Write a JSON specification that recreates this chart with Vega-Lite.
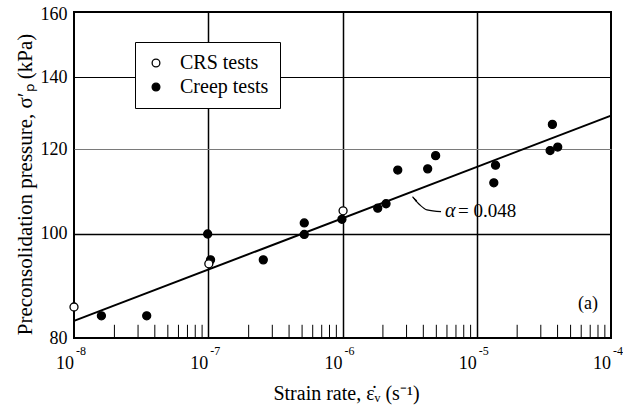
{
  "$schema": "https://vega.github.io/schema/vega-lite/v6.json",
  "width": 537,
  "height": 326,
  "autosize": {"type": "none"},
  "padding": {"left": 74, "top": 12, "right": 12, "bottom": 67},
  "background": "white",
  "config": {
    "view": {"stroke": "black", "strokeWidth": 2},
    "font": "Times New Roman, Liberation Serif, serif",
    "axis": {"labelFont": "Times New Roman, Liberation Serif, serif", "titleFont": "Times New Roman, Liberation Serif, serif", "labelColor": "black", "titleColor": "black", "titleFontWeight": "normal"},
    "legend": {"labelFont": "Times New Roman, Liberation Serif, serif", "labelColor": "black"}
  },
  "datasets": {
    "points": [
      {"x": 1.60e-8, "y": 83.9, "test": "Creep tests"},
      {"x": 3.48e-8, "y": 83.9, "test": "Creep tests"},
      {"x": 9.9e-8, "y": 100.0, "test": "Creep tests"},
      {"x": 1.04e-7, "y": 94.6, "test": "Creep tests"},
      {"x": 2.57e-7, "y": 94.6, "test": "Creep tests"},
      {"x": 5.19e-7, "y": 102.4, "test": "Creep tests"},
      {"x": 5.19e-7, "y": 99.9, "test": "Creep tests"},
      {"x": 9.9e-7, "y": 103.2, "test": "Creep tests"},
      {"x": 1.83e-6, "y": 105.7, "test": "Creep tests"},
      {"x": 2.11e-6, "y": 106.7, "test": "Creep tests"},
      {"x": 2.58e-6, "y": 114.7, "test": "Creep tests"},
      {"x": 4.31e-6, "y": 115.0, "test": "Creep tests"},
      {"x": 4.94e-6, "y": 118.3, "test": "Creep tests"},
      {"x": 1.38e-5, "y": 115.9, "test": "Creep tests"},
      {"x": 1.34e-5, "y": 111.6, "test": "Creep tests"},
      {"x": 3.66e-5, "y": 126.5, "test": "Creep tests"},
      {"x": 3.52e-5, "y": 119.6, "test": "Creep tests"},
      {"x": 4.01e-5, "y": 120.5, "test": "Creep tests"},
      {"x": 1.0e-8, "y": 85.5, "test": "CRS tests"},
      {"x": 1.01e-7, "y": 93.8, "test": "CRS tests"},
      {"x": 1.01e-6, "y": 105.1, "test": "CRS tests"}
    ],
    "fit": [
      {"x": 1e-8, "y": 83.0},
      {"x": 1e-4, "y": 128.9}
    ],
    "arrow": [
      {"x": 3.33e-6, "y": 108.3},
      {"x": 3.78e-6, "y": 106.4},
      {"x": 4.26e-6, "y": 105.3},
      {"x": 5.42e-6, "y": 104.9}
    ],
    "arrowhead": [{"x": 3.47e-6, "y": 107.7}],
    "alpha": [{"x": 5.81e-6, "y": 105.1, "label": "α"}],
    "alphaval": [{"x": 7.24e-6, "y": 105.1, "label": "= 0.048"}],
    "panel": [{"x": 6.75e-5, "y": 86.0, "label": "(a)"}],
    "decades": [
      {"x": 1e-8, "y": 80, "base": "10", "exp": "-8"},
      {"x": 1e-7, "y": 80, "base": "10", "exp": "-7"},
      {"x": 1e-6, "y": 80, "base": "10", "exp": "-6"},
      {"x": 1e-5, "y": 80, "base": "10", "exp": "-5"},
      {"x": 1e-4, "y": 80, "base": "10", "exp": "-4"}
    ],
    "minor": [
      {"x": 2e-8}, {"x": 3e-8}, {"x": 4e-8}, {"x": 5e-8}, {"x": 6e-8}, {"x": 7e-8}, {"x": 8e-8}, {"x": 9e-8},
      {"x": 2e-7}, {"x": 3e-7}, {"x": 4e-7}, {"x": 5e-7}, {"x": 6e-7}, {"x": 7e-7}, {"x": 8e-7}, {"x": 9e-7},
      {"x": 2e-6}, {"x": 3e-6}, {"x": 4e-6}, {"x": 5e-6}, {"x": 6e-6}, {"x": 7e-6}, {"x": 8e-6}, {"x": 9e-6},
      {"x": 2e-5}, {"x": 3e-5}, {"x": 4e-5}, {"x": 5e-5}, {"x": 6e-5}, {"x": 7e-5}, {"x": 8e-5}, {"x": 9e-5}
    ]
  },
  "layer": [
    {
      "data": {"name": "minor"},
      "mark": {"type": "rule", "color": "black", "strokeWidth": 1},
      "encoding": {
        "x": {
          "field": "x", "type": "quantitative",
          "scale": {"type": "log", "domain": [1e-8, 1e-4], "nice": false},
          "axis": {
            "values": [1e-7, 1e-6, 1e-5],
            "labels": false, "ticks": false, "domain": false,
            "grid": true, "gridColor": "black", "gridWidth": 1.5,
            "title": "Strain rate, ε̇ᵥ (s⁻¹)",
            "titleFontSize": 20, "titleX": 272, "titleY": 55,
            "titleBaseline": "middle", "titleAlign": "center"
          }
        },
        "y": {
          "datum": 80, "type": "quantitative",
          "scale": {"type": "log", "domain": [80, 161], "nice": false, "zero": false},
          "axis": {
            "values": [80, 100, 120, 140, 160],
            "ticks": false, "domain": false,
            "labelFontSize": 18, "labelPadding": 7, "labelOverlap": false,
            "grid": true,
            "gridColor": {"condition": {"test": "datum.value == 120", "value": "#7a7a7a"}, "value": "black"},
            "gridWidth": {"condition": {"test": "datum.value == 100", "value": 1.5}, "value": 1},
            "gridOpacity": {"condition": {"test": "datum.value == 80 || datum.value == 160", "value": 0}, "value": 1},
            "title": "Preconsolidation pressure, σ′ₚ (kPa)",
            "titleFontSize": 21, "titleX": -49, "titleY": 172,
            "titleBaseline": "middle", "titleAlign": "center", "titleAngle": -90
          }
        },
        "y2": {"datum": 82.3}
      }
    },
    {
      "data": {"name": "fit"},
      "mark": {"type": "line", "color": "black", "strokeWidth": 2},
      "encoding": {
        "x": {"field": "x", "type": "quantitative", "scale": {"type": "log", "domain": [1e-8, 1e-4], "nice": false}},
        "y": {"field": "y", "type": "quantitative", "scale": {"type": "log", "domain": [80, 161], "nice": false, "zero": false}}
      }
    },
    {
      "data": {"name": "arrow"},
      "mark": {"type": "line", "color": "black", "strokeWidth": 1.2, "interpolate": "monotone"},
      "encoding": {
        "x": {"field": "x", "type": "quantitative", "scale": {"type": "log", "domain": [1e-8, 1e-4], "nice": false}},
        "y": {"field": "y", "type": "quantitative", "scale": {"type": "log", "domain": [80, 161], "nice": false, "zero": false}}
      }
    },
    {
      "data": {"name": "arrowhead"},
      "mark": {"type": "point", "shape": "wedge", "filled": true, "color": "black", "size": 60, "angle": -42, "opacity": 1},
      "encoding": {
        "x": {"field": "x", "type": "quantitative", "scale": {"type": "log", "domain": [1e-8, 1e-4], "nice": false}},
        "y": {"field": "y", "type": "quantitative", "scale": {"type": "log", "domain": [80, 161], "nice": false, "zero": false}}
      }
    },
    {
      "data": {"name": "points"},
      "mark": {"type": "point", "shape": "circle", "filled": true, "stroke": "black", "strokeWidth": 1.3, "size": 64, "opacity": 1},
      "encoding": {
        "x": {"field": "x", "type": "quantitative", "scale": {"type": "log", "domain": [1e-8, 1e-4], "nice": false}},
        "y": {"field": "y", "type": "quantitative", "scale": {"type": "log", "domain": [80, 161], "nice": false, "zero": false}},
        "fill": {
          "field": "test", "type": "nominal",
          "scale": {"domain": ["CRS tests", "Creep tests"], "range": ["white", "black"]},
          "legend": {
            "title": null, "orient": "none", "legendX": 61, "legendY": 30,
            "labelFontSize": 20, "labelOffset": 14,
            "symbolType": "circle", "symbolSize": 60, "symbolStrokeColor": "black", "symbolStrokeWidth": 1.3,
            "strokeColor": "black", "fillColor": "white", "padding": 11, "rowPadding": 4
          }
        }
      }
    },
    {
      "data": {"name": "alpha"},
      "mark": {"type": "text", "align": "left", "baseline": "middle", "fontSize": 20, "fontStyle": "italic", "color": "black"},
      "encoding": {
        "x": {"field": "x", "type": "quantitative", "scale": {"type": "log", "domain": [1e-8, 1e-4], "nice": false}},
        "y": {"field": "y", "type": "quantitative", "scale": {"type": "log", "domain": [80, 161], "nice": false, "zero": false}},
        "text": {"field": "label"}
      }
    },
    {
      "data": {"name": "alphaval"},
      "mark": {"type": "text", "align": "left", "baseline": "middle", "fontSize": 19, "color": "black"},
      "encoding": {
        "x": {"field": "x", "type": "quantitative", "scale": {"type": "log", "domain": [1e-8, 1e-4], "nice": false}},
        "y": {"field": "y", "type": "quantitative", "scale": {"type": "log", "domain": [80, 161], "nice": false, "zero": false}},
        "text": {"field": "label"}
      }
    },
    {
      "data": {"name": "panel"},
      "mark": {"type": "text", "align": "center", "baseline": "middle", "fontSize": 18, "color": "black"},
      "encoding": {
        "x": {"field": "x", "type": "quantitative", "scale": {"type": "log", "domain": [1e-8, 1e-4], "nice": false}},
        "y": {"field": "y", "type": "quantitative", "scale": {"type": "log", "domain": [80, 161], "nice": false, "zero": false}},
        "text": {"field": "label"}
      }
    },
    {
      "data": {"name": "decades"},
      "mark": {"type": "text", "align": "center", "baseline": "middle", "fontSize": 18, "color": "black", "dx": -9, "dy": 26},
      "encoding": {
        "x": {"field": "x", "type": "quantitative", "scale": {"type": "log", "domain": [1e-8, 1e-4], "nice": false}},
        "y": {"field": "y", "type": "quantitative", "scale": {"type": "log", "domain": [80, 161], "nice": false, "zero": false}},
        "text": {"field": "base"}
      }
    },
    {
      "data": {"name": "decades"},
      "mark": {"type": "text", "align": "left", "baseline": "middle", "fontSize": 12, "color": "black", "dx": 2, "dy": 13},
      "encoding": {
        "x": {"field": "x", "type": "quantitative", "scale": {"type": "log", "domain": [1e-8, 1e-4], "nice": false}},
        "y": {"field": "y", "type": "quantitative", "scale": {"type": "log", "domain": [80, 161], "nice": false, "zero": false}},
        "text": {"field": "exp"}
      }
    }
  ]
}
